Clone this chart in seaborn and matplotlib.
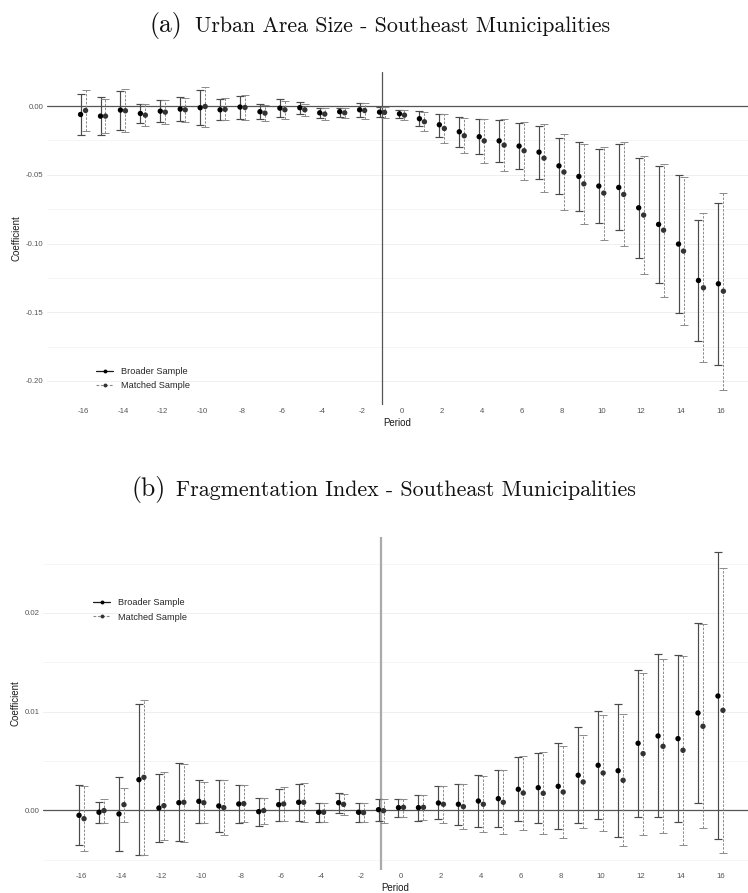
import matplotlib
matplotlib.use("Agg")
import matplotlib.pyplot as plt
from matplotlib.lines import Line2D
import numpy as np
import pandas as pd
import seaborn as sns

periods = list(range(-16, 17))
sample_names = ["Broader Sample", "Matched Sample"]

# (a) Urban area size
urban_broad_est = [-0.0061, -0.0073, -0.0029, -0.0054, -0.0037, -0.0022, -0.0012, -0.0027, -0.0007,
                   -0.0041, -0.0015, -0.0012, -0.0049, -0.0041, -0.0027, -0.0044, -0.0056, -0.0092,
                   -0.0136, -0.0187, -0.0223, -0.0253, -0.0291, -0.0335, -0.0435, -0.0512, -0.0582,
                   -0.0592, -0.0740, -0.0861, -0.1004, -0.1269, -0.1293]
urban_broad_hi = [0.0085, 0.0065, 0.0109, 0.0014, 0.0041, 0.0065, 0.0114, 0.0051, 0.0075,
                  0.0014, 0.0051, 0.0029, -0.0017, -0.0012, 0.0026, -0.0007, -0.0029, -0.0039,
                  -0.0054, -0.0080, -0.0095, -0.0102, -0.0121, -0.0143, -0.0231, -0.0262, -0.0313,
                  -0.0277, -0.0379, -0.0437, -0.0502, -0.0828, -0.0706]
urban_broad_lo = [-0.0211, -0.0209, -0.0172, -0.0122, -0.0117, -0.0109, -0.0138, -0.0102, -0.0092,
                  -0.0095, -0.0080, -0.0058, -0.0087, -0.0078, -0.0080, -0.0083, -0.0087, -0.0148,
                  -0.0226, -0.0298, -0.0347, -0.0405, -0.0459, -0.0527, -0.0638, -0.0762, -0.0854,
                  -0.0905, -0.1106, -0.1288, -0.1507, -0.1711, -0.1883]
urban_match_est = [-0.0032, -0.0073, -0.0034, -0.0066, -0.0044, -0.0027, -0.0003, -0.0024, -0.0010,
                   -0.0051, -0.0027, -0.0027, -0.0058, -0.0049, -0.0032, -0.0046, -0.0066, -0.0114,
                   -0.0163, -0.0216, -0.0253, -0.0284, -0.0325, -0.0379, -0.0480, -0.0566, -0.0633,
                   -0.0643, -0.0793, -0.0903, -0.1055, -0.1322, -0.1347]
urban_match_hi = [0.0114, 0.0051, 0.0124, 0.0012, 0.0041, 0.0060, 0.0138, 0.0056, 0.0080,
                  0.0007, 0.0036, 0.0017, -0.0017, -0.0015, 0.0021, -0.0007, -0.0032, -0.0046,
                  -0.0061, -0.0090, -0.0095, -0.0097, -0.0119, -0.0134, -0.0204, -0.0277, -0.0298,
                  -0.0262, -0.0364, -0.0425, -0.0517, -0.0779, -0.0633]
urban_match_lo = [-0.0182, -0.0197, -0.0189, -0.0143, -0.0129, -0.0114, -0.0150, -0.0102, -0.0099,
                  -0.0112, -0.0095, -0.0071, -0.0099, -0.0085, -0.0095, -0.0088, -0.0102, -0.0180,
                  -0.0265, -0.0342, -0.0413, -0.0471, -0.0536, -0.0624, -0.0757, -0.0859, -0.0973,
                  -0.1019, -0.1221, -0.1388, -0.1594, -0.1863, -0.2067]

# (b) Fragmentation index
frag_broad_est = [-0.00051, -0.00020, -0.00037, 0.00310, 0.00023, 0.00077, 0.00091, 0.00044, 0.00064,
                  -0.00014, 0.00057, 0.00081, -0.00020, 0.00077, -0.00020, 0.00006, 0.00027, 0.00027,
                  0.00074, 0.00061, 0.00094, 0.00118, 0.00213, 0.00229, 0.00243, 0.00355, 0.00456,
                  0.00401, 0.00679, 0.00753, 0.00726, 0.00986, 0.01158]
frag_broad_hi = [0.00253, 0.00088, 0.00340, 0.01077, 0.00371, 0.00476, 0.00310, 0.00304, 0.00253,
                 0.00128, 0.00219, 0.00263, 0.00077, 0.00179, 0.00070, 0.00118, 0.00118, 0.00158,
                 0.00243, 0.00270, 0.00358, 0.00405, 0.00537, 0.00580, 0.00679, 0.00841, 0.01003,
                 0.01074, 0.01418, 0.01581, 0.01570, 0.01901, 0.02614]
frag_broad_lo = [-0.00355, -0.00129, -0.00412, -0.00456, -0.00321, -0.00314, -0.00132, -0.00223, -0.00129,
                 -0.00159, -0.00108, -0.00112, -0.00115, -0.00024, -0.00115, -0.00111, -0.00064, -0.00108,
                 -0.00091, -0.00149, -0.00172, -0.00172, -0.00108, -0.00125, -0.00193, -0.00129, -0.00088,
                 -0.00270, -0.00064, -0.00071, -0.00115, 0.00071, -0.00291]
frag_match_est = [-0.00085, -0.00003, 0.00057, 0.00334, 0.00047, 0.00081, 0.00077, 0.00027, 0.00067,
                  -0.00003, 0.00064, 0.00081, -0.00020, 0.00060, -0.00024, -0.00004, 0.00030, 0.00030,
                  0.00061, 0.00037, 0.00061, 0.00081, 0.00175, 0.00172, 0.00185, 0.00287, 0.00378,
                  0.00304, 0.00574, 0.00648, 0.00608, 0.00851, 0.01013]
frag_match_hi = [0.00243, 0.00118, 0.00223, 0.01121, 0.00388, 0.00473, 0.00284, 0.00304, 0.00253,
                 0.00128, 0.00233, 0.00274, 0.00074, 0.00162, 0.00070, 0.00111, 0.00118, 0.00158,
                 0.00250, 0.00263, 0.00344, 0.00405, 0.00547, 0.00588, 0.00651, 0.00763, 0.00966,
                 0.00973, 0.01394, 0.01533, 0.01567, 0.01885, 0.02458]
frag_match_lo = [-0.00412, -0.00129, -0.00115, -0.00456, -0.00304, -0.00321, -0.00132, -0.00253, -0.00118,
                 -0.00142, -0.00105, -0.00118, -0.00122, -0.00047, -0.00118, -0.00129, -0.00071, -0.00098,
                 -0.00125, -0.00189, -0.00220, -0.00243, -0.00203, -0.00240, -0.00281, -0.00182, -0.00206,
                 -0.00362, -0.00250, -0.00233, -0.00355, -0.00179, -0.00436]

x_ticks = list(range(-16, 17, 2))
urban_y_ticks = [-0.20, -0.15, -0.10, -0.05, 0.00]
frag_y_ticks = [0.00, 0.01, 0.02]
event_period = -1

DODGE = 0.125
POINT_COLORS = {"Broader Sample": "#000000", "Matched Sample": "#333333"}
BAR_STYLE = {
    "Broader Sample": dict(color="#4a4a4a", lw=0.85, ls="-"),
    "Matched Sample": dict(color="#8a8a8a", lw=0.7, ls=(0, (2.5, 1.5))),
}


def build_frame(broad, match):
    rows = []
    for name, (est, lo, hi), shift in zip(sample_names, (broad, match), (-DODGE, DODGE)):
        for p, e, l, h in zip(periods, est, lo, hi):
            rows.append({"period": p, "x": p + shift, "estimate": e, "lo": l, "hi": h, "sample": name})
    return pd.DataFrame(rows)


urban_df = build_frame((urban_broad_est, urban_broad_lo, urban_broad_hi),
                       (urban_match_est, urban_match_lo, urban_match_hi))
frag_df = build_frame((frag_broad_est, frag_broad_lo, frag_broad_hi),
                      (frag_match_est, frag_match_lo, frag_match_hi))

sns.set_theme(style="white")
plt.rcParams["font.family"] = ["Liberation Sans", "DejaVu Sans"]
plt.rcParams["axes.unicode_minus"] = False

W, H = 748, 893
fig = plt.figure(figsize=(W / 100, H / 100), dpi=100)


def px_axes(left, top, right, bottom):
    return fig.add_axes([left / W, 1 - bottom / H, (right - left) / W, (bottom - top) / H])


def draw_panel(ax, df, yticks, ylim, xlim, vline_kw, legend_anchor):
    ax.set_xlim(*xlim)
    ax.set_ylim(*ylim)
    step = yticks[1] - yticks[0]
    minor = [t + step / 2 for t in [yticks[0] - step] + yticks]
    minor = [m for m in minor if ylim[0] < m < ylim[1]]
    ax.set_yticks(yticks)
    ax.set_yticks(minor, minor=True)
    ax.set_yticklabels([f"{t:.2f}" for t in yticks])
    ax.set_xticks(x_ticks)
    ax.set_xticklabels([str(t) for t in x_ticks])
    ax.grid(False)
    ax.grid(axis="y", which="major", color="#ececec", lw=0.6, zorder=0)
    ax.grid(axis="y", which="minor", color="#f4f4f4", lw=0.6, zorder=0)
    for s in ax.spines.values():
        s.set_visible(False)
    ax.tick_params(axis="both", which="both", length=0, labelsize=5.6, labelcolor="#555555", pad=2.5)

    ax.axhline(0, color="#555555", lw=0.9, zorder=1)
    ax.axvline(event_period, zorder=1, **vline_kw)

    for name in sample_names:
        sub = df[df["sample"] == name]
        st = BAR_STYLE[name]
        eb = ax.errorbar(sub["x"], sub["estimate"],
                         yerr=[sub["estimate"] - sub["lo"], sub["hi"] - sub["estimate"]],
                         fmt="none", ecolor=st["color"], elinewidth=st["lw"],
                         capsize=3, capthick=st["lw"], zorder=2)
        eb[2][0].set_linestyle(st["ls"])

    sns.scatterplot(data=df, x="x", y="estimate", hue="sample", palette=POINT_COLORS,
                    s=15, linewidth=0, legend=False, ax=ax, zorder=3)

    ax.set_xlabel("Period", fontsize=7, color="#1a1a1a", labelpad=1.5)
    ax.set_ylabel("Coefficient", fontsize=7, color="#1a1a1a", labelpad=3)

    handles = [
        Line2D([0], [0], color="#1a1a1a", lw=0.9, ls="-", marker="o", markersize=2.8,
               markerfacecolor="#000000", markeredgewidth=0),
        Line2D([0], [0], color="#8a8a8a", lw=0.8, ls=(0, (2.5, 1.5)), marker="o", markersize=2.8,
               markerfacecolor="#333333", markeredgewidth=0),
    ]
    ax.legend(handles, sample_names, loc="upper left", bbox_to_anchor=legend_anchor,
              frameon=False, fontsize=6.6, handlelength=1.9, handletextpad=0.8,
              labelspacing=0.6, borderpad=0, borderaxespad=0)


ax_a = px_axes(47, 72, 748, 405)
draw_panel(ax_a, urban_df, urban_y_ticks, (-0.2175, 0.0248), (-17.81, 17.36),
           dict(color="#555555", lw=0.9), ((96 - 47) / 701, (405 - 367) / 333))

ax_b = px_axes(43, 537, 748, 870)
draw_panel(ax_b, frag_df, frag_y_ticks, (-0.00605, 0.02769), (-17.93, 17.38),
           dict(color="#aaaaaa", lw=1.6), ((93 - 43) / 705, (870 - 598) / 333))


def panel_title(tag, text, x_tag, x_text, baseline):
    y = 1 - baseline / H
    fig.text(x_tag / W, y, tag, fontfamily="cmr10", fontsize=18.5, va="baseline", ha="left", color="#111111")
    fig.text(x_text / W, y, text, fontfamily="cmr10", fontsize=15.8, va="baseline", ha="left", color="#111111")


panel_title("(a)", "Urban Area Size - Southeast Municipalities", 150, 195, 32)
panel_title("(b)", "Fragmentation Index - Southeast Municipalities", 132, 176, 496)

fig.savefig("out.png", dpi=100, facecolor="white")
